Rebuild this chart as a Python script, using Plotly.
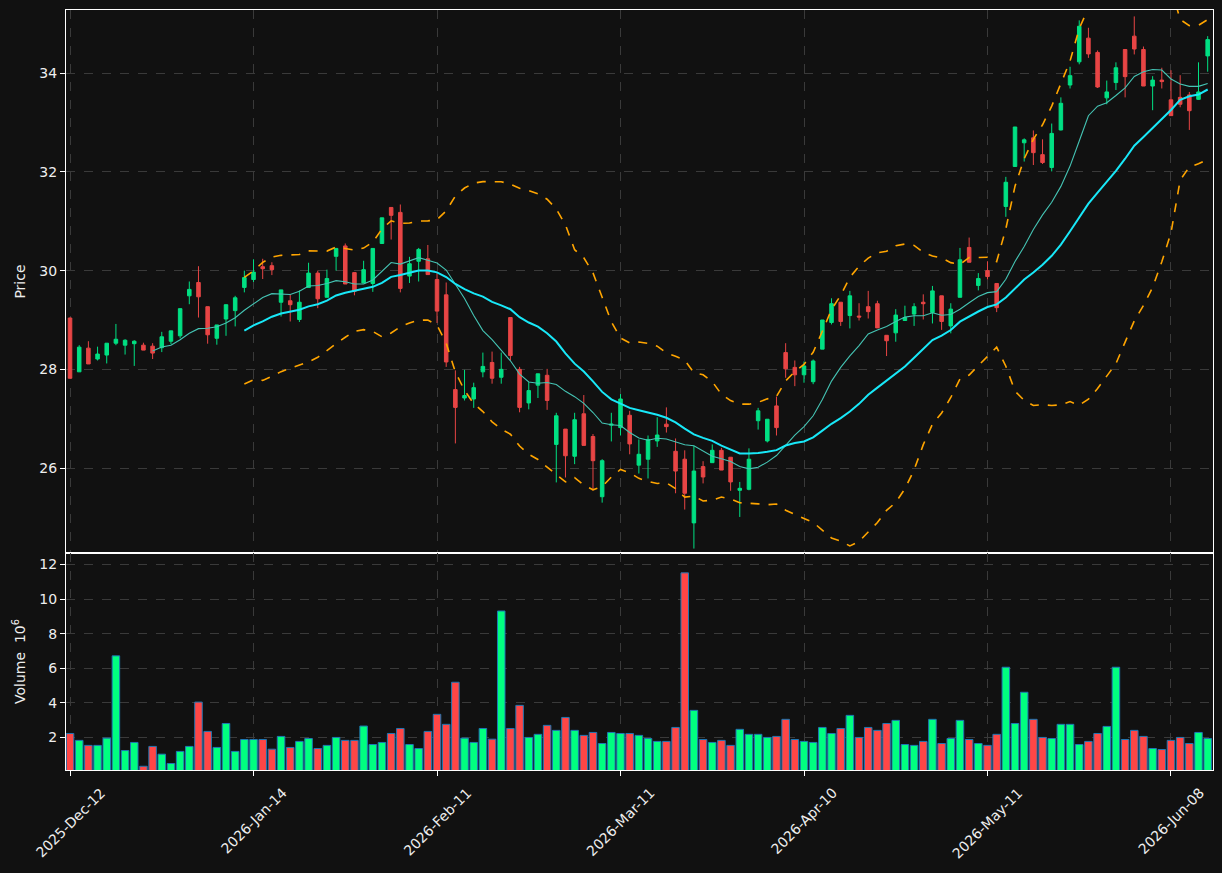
import plotly.graph_objects as go
from plotly.subplots import make_subplots
import pandas as pd

# ---------------- data ----------------
opens = [29.04, 27.95, 28.43, 28.21, 28.29, 28.53, 28.49, 28.52, 28.49, 28.47,
         28.44, 28.57, 28.68, 29.49, 29.76, 29.27, 28.63, 29.02, 29.19, 29.66,
         29.82, 30.08, 30.10, 29.36, 29.39, 29.01, 29.66, 29.95, 29.46, 30.29,
         30.50, 29.96, 29.75, 29.74, 30.55, 31.28, 31.18, 29.89, 30.19, 30.24,
         29.82, 29.51, 27.59, 27.42, 27.40, 27.95, 28.14, 27.84, 29.05, 28.00,
         27.32, 27.68, 27.88, 26.48, 26.79, 26.24, 27.10, 26.64, 25.42, 26.87,
         26.82, 27.07, 26.06, 26.18, 26.55, 26.89, 26.34, 26.18, 24.89, 26.03,
         26.11, 26.36, 26.22, 25.55, 25.57, 26.96, 26.55, 27.26, 28.34, 28.04,
         27.89, 27.75, 28.41, 28.95, 29.36, 29.09, 29.08, 29.27, 29.33, 28.69,
         28.74, 28.99, 29.12, 29.36, 29.15, 29.49, 28.88, 29.46, 30.47, 29.70,
         30.00, 29.74, 31.30, 32.11, 32.59, 32.69, 32.35, 32.09, 32.85, 33.76,
         34.23, 34.71, 34.42, 33.50, 33.81, 34.48, 34.75, 34.48, 33.74, 33.86,
         33.46, 33.51, 33.56, 33.47, 34.35]
highs = [29.05, 28.49, 28.57, 28.46, 28.53, 28.92, 28.61, 28.59, 28.54, 28.53,
         28.76, 28.78, 29.23, 29.78, 30.09, 29.27, 28.90, 29.31, 29.49, 30.00,
         30.23, 30.24, 30.17, 29.61, 29.51, 29.60, 30.16, 30.00, 30.02, 30.45,
         30.55, 29.96, 30.20, 30.45, 31.07, 31.28, 31.34, 30.28, 30.46, 30.52,
         29.95, 29.76, 27.98, 27.99, 27.73, 28.34, 28.36, 28.34, 29.05, 28.05,
         27.74, 27.91, 28.01, 27.12, 26.79, 27.12, 27.48, 26.69, 26.18, 27.12,
         27.50, 27.16, 26.58, 26.66, 27.03, 27.23, 26.60, 26.36, 26.45, 26.14,
         26.48, 26.41, 26.22, 25.72, 26.40, 27.22, 26.99, 27.45, 28.53, 28.18,
         28.16, 28.20, 29.00, 29.44, 29.36, 29.59, 29.34, 29.59, 29.39, 28.69,
         29.22, 29.29, 29.34, 29.52, 29.69, 29.49, 29.34, 30.46, 30.67, 29.95,
         30.19, 29.73, 31.90, 32.91, 32.68, 32.84, 32.66, 32.98, 33.51, 34.13,
         35.07, 34.92, 34.46, 33.85, 34.22, 34.48, 35.15, 34.54, 33.94, 34.11,
         34.06, 33.96, 33.62, 34.22, 34.75]
lows = [27.82, 27.95, 28.11, 28.18, 28.12, 28.49, 28.30, 28.07, 28.39, 28.21,
        28.35, 28.51, 28.63, 29.32, 29.05, 28.52, 28.50, 28.68, 28.87, 29.56,
        29.77, 29.83, 29.91, 29.07, 28.97, 28.96, 29.66, 29.24, 29.46, 30.00,
        29.73, 29.50, 29.75, 29.57, 30.55, 30.63, 29.56, 29.75, 29.78, 29.92,
        28.94, 28.05, 26.50, 27.37, 27.22, 27.84, 27.71, 27.71, 28.18, 27.13,
        27.19, 27.42, 27.18, 25.71, 25.81, 26.08, 26.46, 25.55, 25.30, 26.54,
        26.66, 26.28, 25.89, 25.79, 26.43, 26.72, 25.49, 25.16, 24.37, 25.69,
        26.11, 25.96, 25.54, 25.01, 25.55, 26.78, 26.52, 26.66, 27.83, 27.66,
        27.73, 27.70, 28.41, 28.91, 28.88, 28.83, 28.99, 29.03, 28.84, 28.27,
        28.56, 28.98, 28.88, 29.01, 28.93, 28.80, 28.73, 29.46, 30.17, 29.60,
        29.82, 29.16, 31.09, 32.11, 32.21, 32.14, 32.16, 32.01, 32.84, 33.69,
        34.18, 34.31, 33.70, 33.37, 33.66, 33.51, 34.38, 33.74, 33.25, 33.69,
        33.14, 33.31, 32.85, 33.46, 34.03]
closes = [27.82, 28.45, 28.11, 28.31, 28.53, 28.61, 28.59, 28.57, 28.39, 28.33,
          28.66, 28.78, 29.23, 29.62, 29.47, 28.70, 28.90, 29.31, 29.45, 29.86,
          29.97, 30.04, 30.02, 29.61, 29.31, 29.36, 29.95, 29.43, 29.84, 30.45,
          29.73, 29.58, 30.02, 30.45, 31.07, 31.12, 29.64, 30.14, 30.43, 29.92,
          29.18, 28.15, 27.23, 27.47, 27.63, 28.06, 27.82, 28.00, 28.28, 27.23,
          27.57, 27.91, 27.37, 27.06, 26.25, 26.98, 26.46, 26.15, 26.15, 26.89,
          27.40, 26.49, 26.28, 26.58, 26.67, 26.84, 25.94, 25.49, 25.94, 25.82,
          26.36, 25.96, 25.72, 25.59, 26.18, 27.16, 26.99, 26.82, 28.01, 27.89,
          28.07, 28.17, 29.00, 29.33, 28.97, 29.49, 29.06, 29.17, 28.84, 28.58,
          29.10, 29.05, 29.27, 29.33, 29.59, 28.97, 29.22, 30.22, 30.17, 29.84,
          29.88, 29.25, 31.79, 32.91, 32.65, 32.39, 32.19, 32.78, 33.39, 33.95,
          34.95, 34.39, 33.72, 33.62, 34.11, 33.93, 34.49, 33.74, 33.86, 33.83,
          33.14, 33.37, 33.24, 33.62, 34.68]
volumes_m = [2.21, 1.81, 1.52, 1.52, 1.94, 6.71, 1.22, 1.69, 0.31, 1.46,
             1.01, 0.47, 1.17, 1.46, 4.03, 2.33, 1.40, 2.79, 1.17, 1.86,
             1.86, 1.86, 1.30, 2.04, 1.40, 1.75, 1.92, 1.34, 1.52, 1.98,
             1.81, 1.81, 2.64, 1.57, 1.69, 2.21, 2.50, 1.57, 1.34, 2.33,
             3.32, 2.74, 5.18, 1.94, 1.69, 2.50, 1.88, 9.31, 2.50, 3.84,
             1.98, 2.16, 2.68, 2.39, 3.14, 2.39, 2.10, 2.27, 1.63, 2.27,
             2.21, 2.21, 2.10, 1.92, 1.75, 1.75, 2.56, 11.52, 3.55, 1.86,
             1.69, 1.81, 1.52, 2.45, 2.16, 2.16, 1.98, 2.04, 3.03, 1.86,
             1.75, 1.69, 2.56, 2.21, 2.50, 3.26, 1.98, 2.56, 2.39, 2.79,
             2.97, 1.57, 1.52, 1.75, 3.03, 1.63, 1.92, 2.97, 1.86, 1.63,
             1.52, 2.16, 6.05, 2.79, 4.60, 3.03, 1.98, 1.92, 2.74, 2.74,
             1.57, 1.75, 2.21, 2.62, 6.05, 1.86, 2.39, 2.04, 1.34, 1.28,
             1.81, 1.98, 1.63, 2.27, 1.92]
tick_labels = ["2025-Dec-12", "2026-Jan-14", "2026-Feb-11", "2026-Mar-11",
               "2026-Apr-10", "2026-May-11", "2026-Jun-08"]

# ---------------- styling ----------------
BG = "#111111"
UP_C = "#00e083"
DN_C = "#e84545"
UP_V = "#00ff80"
DN_V = "#ff4646"
GRID = "#3a3a3a"
TXT = "#eeeeee"
FONT = "DejaVu Sans"

N = len(closes)
idx = list(range(N))
tick_pos = list(range(0, N, 20))
s = pd.Series(closes)
ma10 = s.rolling(10).mean()
ma20 = s.rolling(20).mean()
sd20 = s.rolling(20).std()
bb_up = ma20 + 2 * sd20
bb_lo = ma20 - 2 * sd20

vol_colors = [UP_V if c >= o else DN_V for o, c in zip(opens, closes)]

fig = make_subplots(rows=2, cols=1, shared_xaxes=True, vertical_spacing=0,
                    row_heights=[543, 217])

fig.add_trace(go.Candlestick(
    x=idx, open=opens, high=highs, low=lows, close=closes,
    increasing=dict(line=dict(color=UP_C, width=1), fillcolor=UP_C),
    decreasing=dict(line=dict(color=DN_C, width=1), fillcolor=DN_C),
    whiskerwidth=0, showlegend=False), row=1, col=1)

fig.add_trace(go.Scatter(x=idx, y=ma10, mode="lines",
                         line=dict(color="#45c4b4", width=1.1),
                         showlegend=False), row=1, col=1)
fig.add_trace(go.Scatter(x=idx, y=ma20, mode="lines",
                         line=dict(color="#18e8f8", width=2),
                         showlegend=False), row=1, col=1)
for band in (bb_up, bb_lo):
    fig.add_trace(go.Scatter(x=idx, y=band, mode="lines",
                             line=dict(color="#ffa500", width=1.6, dash="dash"),
                             showlegend=False), row=1, col=1)

fig.add_trace(go.Bar(x=idx, y=volumes_m, width=0.82,
                     marker=dict(color=vol_colors,
                                 line=dict(color="#1f77b4", width=1)),
                     showlegend=False), row=2, col=1)

axis_common = dict(showline=True, mirror=True, linecolor="#ffffff", linewidth=1.2,
                   showgrid=True, gridcolor=GRID, griddash="dash", gridwidth=1,
                   zeroline=False, ticks="outside", ticklen=5, tickcolor="#ffffff",
                   automargin=False,
                   tickfont=dict(family=FONT, size=14, color=TXT))

xr = [-0.44, 124.58]
fig.update_xaxes(**axis_common)
fig.update_xaxes(range=xr, rangeslider=dict(visible=False),
                 tickvals=tick_pos, showticklabels=False, ticks="", row=1, col=1)
fig.update_xaxes(range=xr, tickvals=tick_pos, showticklabels=False, row=2, col=1)

fig.update_yaxes(**axis_common)
fig.update_yaxes(range=[24.28, 35.28], dtick=2,
                 title=dict(text="Price", font=dict(family=FONT, size=14, color=TXT),
                            standoff=10),
                 row=1, col=1)
fig.update_yaxes(range=[0.3 * min(volumes_m), 1.1 * max(volumes_m)],
                 tickvals=[2, 4, 6, 8, 10, 12],
                 title=dict(text="Volume  10<sup>6</sup>",
                            font=dict(family=FONT, size=14, color=TXT), standoff=10),
                 row=2, col=1)

# date labels, rotated 45° and centred on their ticks (matplotlib style)
for pos, lab in zip(tick_pos, tick_labels):
    fig.add_annotation(x=pos, y=0, xref="x2", yref="paper", text=lab,
                       textangle=-45, showarrow=False, xanchor="center",
                       yanchor="top", yshift=-12,
                       font=dict(family=FONT, size=14, color=TXT))

fig.update_layout(
    width=1222, height=873,
    margin=dict(l=66, r=9, t=10, b=103),
    paper_bgcolor=BG, plot_bgcolor=BG,
    font=dict(family=FONT, size=14, color=TXT),
    boxgap=0.45, bargap=0.1,
    showlegend=False,
)

fig.write_html("out.html")
